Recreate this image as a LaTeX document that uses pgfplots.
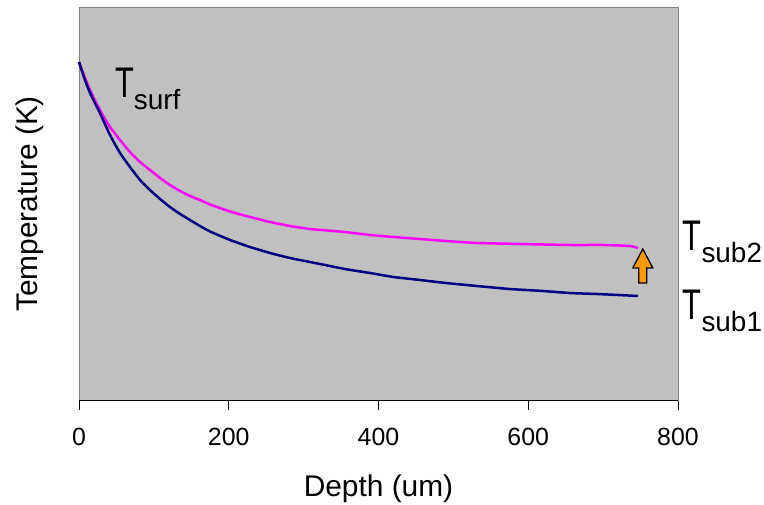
\documentclass[border=0pt]{standalone}
\usepackage{pgfplots}
\pgfplotsset{compat=1.18}
\usepackage{fontspec}
\setmainfont{Liberation Sans}
\definecolor{bgc}{HTML}{C0C0C0}
\definecolor{framec}{HTML}{808080}
\definecolor{navyc}{HTML}{000080}
\definecolor{magc}{HTML}{FF00FF}
\definecolor{arrc}{HTML}{FF9900}
\newcommand{\TT}[1]{{\fontsize{43}{43}\selectfont\scalebox{0.72}[1]{T}}\raisebox{-12bp}{\fontsize{28}{28}\selectfont #1}}
\begin{document}
\begin{tikzpicture}
\begin{axis}[
  scale only axis, width=599bp, height=392bp,
  xmin=0, xmax=800, ymin=0, ymax=392,
  axis background/.style={fill=bgc},
  axis line style={draw=framec, line width=1bp},
  xtick={0,200,400,600,800}, ytick=\empty,
  xtick pos=bottom, tick align=outside, major tick length=10bp,
  tick style={black, line width=0.8bp},
  /pgf/number format/assume math mode=true,
  ticklabel style={font=\fontsize{25}{30}\selectfont},
  xticklabel style={anchor=base, yshift=-35bp},
  xlabel={Depth (um)}, ylabel={Temperature (K)},
  label style={font=\fontsize{30}{34}\selectfont},
  xlabel style={at={(axis description cs:0.5,-0.227)}, anchor=center},
  ylabel style={at={(axis description cs:-0.082,0.5)}, anchor=center},
  clip=false,
]
\addplot[magc, line width=2.5bp, smooth, tension=0.3] coordinates {
 (0,338) (7,324) (14.7,310) (28,290) (41.4,273) (54.8,260) (68.1,248) (81.5,238) (94.8,230)
 (108.2,222) (121.5,215) (134.9,209) (148.2,204) (161.6,200) (175,195.5) (201.7,188.5) (228.4,183)
 (255.1,178) (281.8,174) (308.5,171) (355,168) (388.6,165) (420,163) (455.4,161) (490,159)
 (531.6,157) (590,156) (655.8,155) (700,155) (735.9,154) (746.6,152)
};
\addplot[navyc, line width=2.5bp, smooth, tension=0.3] coordinates {
 (0,338) (7,322) (14.7,307) (28,287) (41.4,265) (54.8,247) (68.1,233) (81.5,220) (94.8,210)
 (108.2,201) (121.5,193) (134.9,186) (148.2,180) (161.6,174) (175,168.5) (201.7,160) (228.4,153)
 (255.1,147) (281.8,142) (321.9,136) (355,131) (388.6,127) (420,123) (455.4,120) (490,117)
 (531.6,114) (575,111) (619.7,109) (655,107) (691.8,106) (720,105) (746.6,104)
};
\draw[black, line width=1bp] (axis cs:0,0) -- (axis cs:800,0);
\filldraw[fill=arrc, draw=black, line width=1.3bp]
 (axis cs:747.7,117) -- (axis cs:758.3,117) -- (axis cs:758.3,132) -- (axis cs:766.4,132)
 -- (axis cs:753,151) -- (axis cs:739.6,132) -- (axis cs:747.7,132) -- cycle;
\node[anchor=base west, inner sep=0] at (axis cs:48,302) {\TT{surf}};
\node[anchor=base west, inner sep=0] at (axis cs:806,149) {\TT{sub2}};
\node[anchor=base west, inner sep=0] at (axis cs:806,81) {\TT{sub1}};
\end{axis}
\pgfresetboundingbox
\path[use as bounding box] (-79bp,-105bp) rectangle (685bp,400bp);
\end{tikzpicture}
\end{document}
